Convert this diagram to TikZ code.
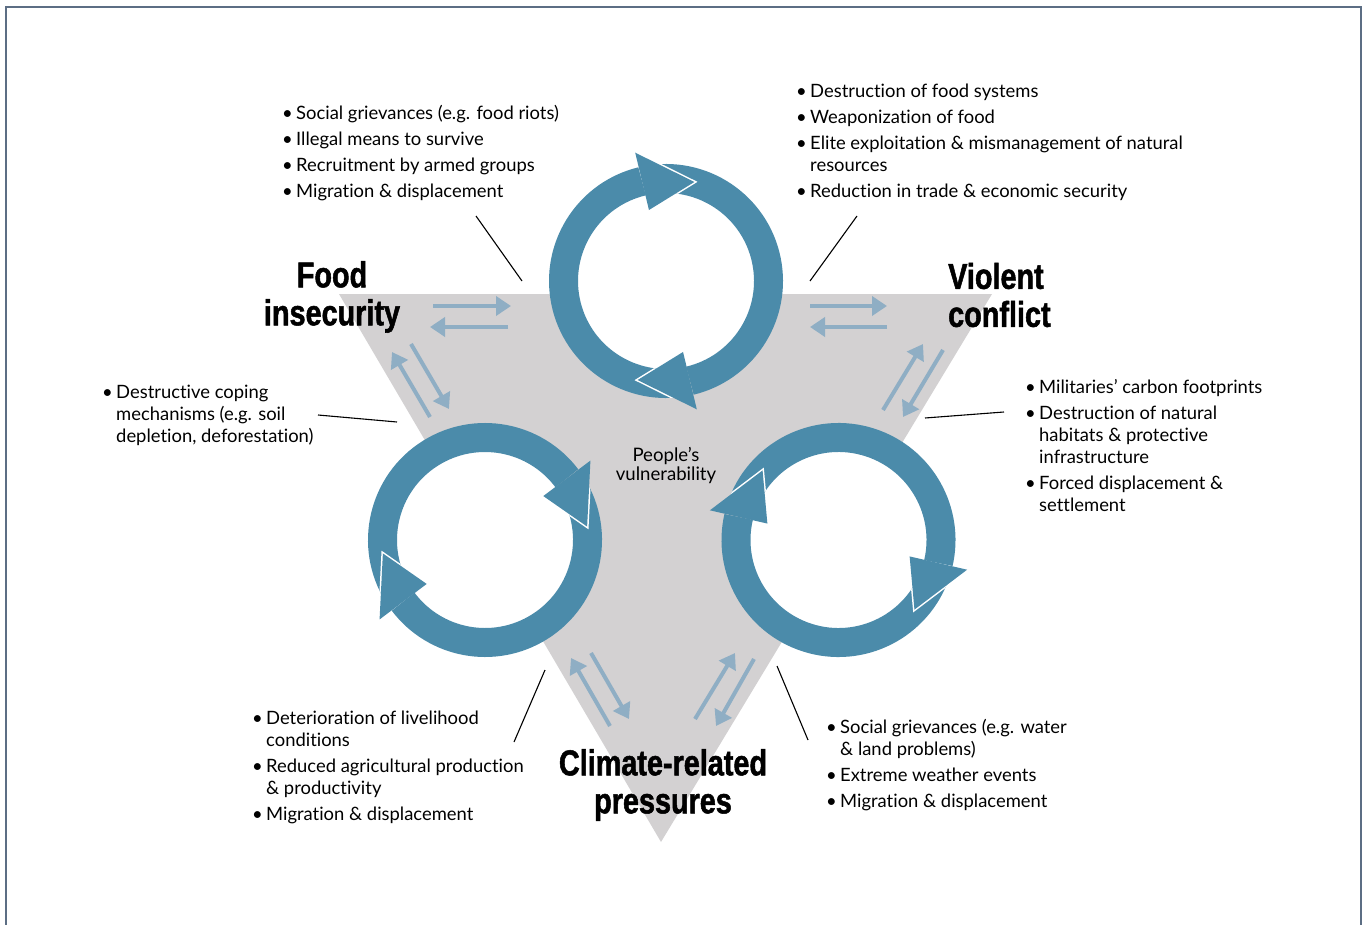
\documentclass[tikz,border=0pt]{standalone}
\usepackage{fontspec}
\setmainfont[Ligatures=NoCommon]{Lato}
\newfontfamily\headfont[FakeStretch=0.8,FakeBold=1.4]{Liberation Sans}
\usetikzlibrary{arrows.meta}
\definecolor{ringblue}{RGB}{75,139,170}
\definecolor{pairblue}{RGB}{143,174,196}
\definecolor{trigray}{RGB}{211,209,210}
\definecolor{framegray}{RGB}{92,110,132}
\tikzset{
    ttl/.style={
        font=\headfont\bfseries\fontsize{36}{38}\selectfont, inner sep=0pt
    }
}
\newcommand{\bu}{\makebox[14pt][l]{\textbullet}}

\begin{document}
\begin{tikzpicture}[x=1pt,y=1pt, line join=miter]

\tikzset{
  notes/.style={font=\fontsize{18.4}{22}\selectfont, anchor=base west, inner sep=0pt},
  pair/.style={draw=pairblue, line width=4pt, -{Triangle[length=15pt,width=19pt]}},
  lead/.style={draw=black, line width=1.1pt},
  ringarc/.style={draw=ringblue, line width=29pt},
  tipedge/.style={draw=white, line width=3pt},
  tipfill/.style={fill=ringblue}
}

\useasboundingbox (0,0) rectangle (1367,-925);
\draw[framegray, line width=2pt] (6,-925) -- (6,-7) -- (1361,-7) -- (1361,-925);

% triangle
\fill[trigray] (339,-294) -- (992,-294) -- (661,-842) -- cycle;

% two-way arrows
\draw[pair] (433,-306) -- (511,-306);
\draw[pair] (508,-327) -- (430,-327);
\draw[pair] (430,-417) -- (392,-352);
\draw[pair] (411,-344) -- (449,-409);
\draw[pair] (810,-306) -- (887,-306);
\draw[pair] (887,-327) -- (810,-327);
\draw[pair] (883,-410) -- (923,-344);
\draw[pair] (943,-350) -- (903,-417);
\draw[pair] (610,-726) -- (571,-658);
\draw[pair] (591,-653) -- (629,-719);
\draw[pair] (695,-719) -- (735,-653);
\draw[pair] (754,-659) -- (716,-726);

% cycles
\foreach \cx/\cy/\ph in {666/281/103.5, 485/540/37, 838.5/540/167} {
  \begin{scope}[shift={(\cx,-\cy)}]
    \fill[white] (0,0) circle (89);
    \foreach \a in {\ph, \ph-180}
      \draw[ringarc] (\a+175:102.5) arc[start angle=\a+175, end angle=\a, radius=102.5];
    \foreach \a in {\ph, \ph-180} {
      \begin{scope}[even odd rule]
        \clip (0,0) circle (117) (0,0) circle (88);
        \draw[tipedge] (\a:132) -- (\a-29.5:103) -- (\a:73);
      \end{scope}
      \fill[tipfill] (\a:132) -- (\a-29.5:103) -- (\a:73) -- cycle;
    }
  \end{scope}
}

% titles
\node[ttl, align=center] (food) at (332,-297) {Food\\insecurity};
\node[ttl, align=left, anchor=west] (conf) at (948,-295) {Violent\\conflict};
\node[ttl, align=center] (clim) at (663,-785) {Climate-related\\pressures};

\node[font=\fontsize{18.6}{19}\selectfont, align=center, inner sep=0pt] (vul) at (666,-465) {People’s\\vulnerability};

% lists
\node[notes] (fiList) at (282,-120) {\begin{tabular}[t]{@{}l@{}l@{}}
\bu & Social grievances (e.g. food riots)\\[4pt]
\bu & Illegal means to survive\\[4pt]
\bu & Recruitment by armed groups\\[4pt]
\bu & Migration \& displacement
\end{tabular}};
\node[notes] (vcList) at (796,-98) {\begin{tabular}[t]{@{}l@{}l@{}}
\bu & Destruction of food systems\\[4pt]
\bu & Weaponization of food\\[4pt]
\bu & Elite exploitation \& mismanagement of natural\\
    & resources\\[4pt]
\bu & Reduction in trade \& economic security
\end{tabular}};
\node[notes] (cpList) at (102,-398) {\begin{tabular}[t]{@{}l@{}l@{}}
\bu & Destructive coping\\
    & mechanisms (e.g. soil\\
    & depletion, deforestation)
\end{tabular}};
\node[notes] (milList) at (1025,-393) {\begin{tabular}[t]{@{}l@{}l@{}}
\bu & Militaries' carbon footprints\\[4pt]
\bu & Destruction of natural\\
    & habitats \& protective\\
    & infrastructure\\[4pt]
\bu & Forced displacement \&\\
    & settlement
\end{tabular}};
\node[notes] (liveList) at (252,-724) {\begin{tabular}[t]{@{}l@{}l@{}}
\bu & Deterioration of livelihood\\
    & conditions\\[4pt]
\bu & Reduced agricultural production\\
    & \& productivity\\[4pt]
\bu & Migration \& displacement
\end{tabular}};
\node[notes] (wxList) at (826,-733) {\begin{tabular}[t]{@{}l@{}l@{}}
\bu & Social grievances (e.g. water\\
    & \& land problems)\\[4pt]
\bu & Extreme weather events\\[4pt]
\bu & Migration \& displacement
\end{tabular}};

% leader lines
\coordinate (fiA) at (476,-216);  \coordinate (fiB) at (522,-281);
\coordinate (vcA) at (857,-216);  \coordinate (vcB) at (810,-281);
\coordinate (cpA) at (318,-415);  \coordinate (cpB) at (397,-422);
\coordinate (milA) at (1004,-412); \coordinate (milB) at (925,-418);
\coordinate (liveA) at (514,-742); \coordinate (liveB) at (545,-670);
\coordinate (wxA) at (808,-740);  \coordinate (wxB) at (777,-666);
\draw[lead] (fiA) -- (fiB);
\draw[lead] (vcA) -- (vcB);
\draw[lead] (cpA) -- (cpB);
\draw[lead] (milA) -- (milB);
\draw[lead] (liveA) -- (liveB);
\draw[lead] (wxA) -- (wxB);

\end{tikzpicture}
\end{document}
